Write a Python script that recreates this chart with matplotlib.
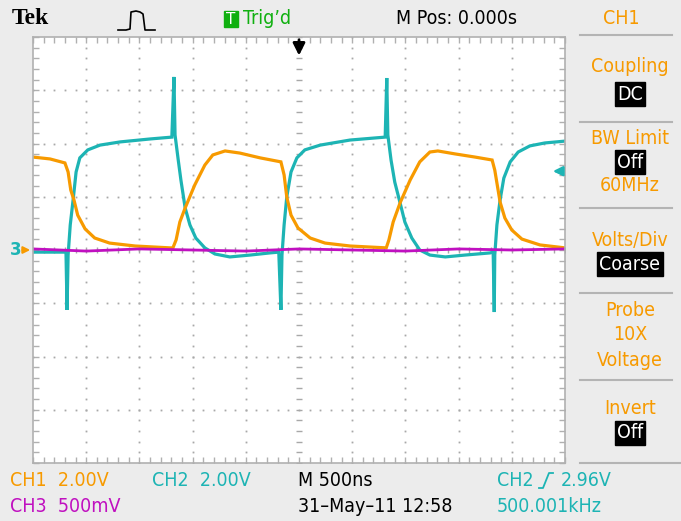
import matplotlib
matplotlib.use("Agg")
import matplotlib.pyplot as plt
import numpy as np
from matplotlib.lines import Line2D
from matplotlib.patches import Rectangle

# scope settings
ns_per_div = 500.0
ch1_v_per_div = 2.0
ch2_v_per_div = 2.0
ch3_v_per_div = 0.5
trig_level = 2.96

# CH1 (orange): time in ns, volts
ch1_t = [-2500, -2340, -2200, -2170, -2145, -2115, -2080, -2010, -1920, -1780,
         -1540, -1210, -1185, -1155, -1120, -1070, -980, -885, -810, -695,
         -555, -365, -170, -140, -115, -75, -10, 105, 245, 480,
         820, 845, 885, 950, 1045, 1135, 1230, 1305, 1465, 1655,
         1815, 1840, 1890, 1935, 2000, 2095, 2265, 2500]
ch1_v = [3.49, 3.42, 3.27, 2.93, 2.25, 1.88, 1.31, 0.79, 0.45, 0.26,
         0.15, 0.08, 0.08, 0.38, 1.05, 1.58, 2.44, 3.19, 3.57, 3.72,
         3.64, 3.46, 3.31, 2.82, 1.99, 1.31, 0.83, 0.45, 0.26, 0.15,
         0.08, 0.38, 1.05, 1.77, 2.63, 3.31, 3.68, 3.72, 3.61, 3.49,
         3.38, 3.00, 1.80, 1.20, 0.75, 0.41, 0.19, 0.08]

# CH2 (cyan)
ch2_t = [-2500, -2190, -2180, -2170, -2150, -2120, -2095, -2060, -1985, -1870,
         -1680, -1400, -1195, -1175, -1165, -1135, -1110, -1070, -1025, -970,
         -885, -790, -650, -460, -275, -190, -170, -160, -140, -115,
         -75, -20, 55, 200, 480, 810, 825, 835, 865, 900,
         950, 995, 1060, 1135, 1230, 1375, 1560, 1795, 1825, 1835,
         1840, 1860, 1890, 1925, 1985, 2060, 2170, 2310, 2500]
ch2_v = [-0.08, -0.08, -2.25, -0.19, 0.94, 1.99, 2.93, 3.46, 3.76, 3.94,
         4.06, 4.17, 4.24, 6.50, 4.32, 3.38, 2.63, 1.58, 0.94, 0.45,
         0.08, -0.15, -0.26, -0.19, -0.11, -0.08, -2.25, -0.19, 0.94, 1.99,
         2.93, 3.46, 3.76, 3.94, 4.13, 4.24, 6.46, 4.32, 3.38, 2.55,
         1.77, 1.05, 0.45, 0.00, -0.19, -0.26, -0.19, -0.11, -0.08, -2.33,
         -0.19, 0.94, 1.88, 2.70, 3.31, 3.68, 3.91, 4.02, 4.09]

# CH3 (magenta), flat near ground
ch3_t = [-2500, -2000, -1500, -1000, -500, 0, 500, 1000, 1500, 2000, 2500]
ch3_v = [0.01, -0.01, 0.01, 0.0, -0.01, 0.01, 0.0, -0.01, 0.01, 0.0, 0.01]

ORANGE = "#f79a00"
CYAN = "#1db4b4"
MAGENTA = "#c010c0"
GREEN = "#10b010"
W, H = 681, 521
FONT = ["DejaVu Sans"]
TXT = dict(family=FONT, fontstretch="condensed", fontsize=14)


def fx(x):
    return x / W


def fy(y):
    return 1 - y / H


def to_div(t, v, vdiv):
    return np.array(t) / ns_per_div + 5, np.array(v) / vdiv


fig = plt.figure(figsize=(W / 100, H / 100), dpi=100, facecolor="#ececec")
ax = fig.add_axes([fx(33), fy(463), (565 - 33) / W, (463 - 37) / H])
ax.set_facecolor("white")
ax.set_xlim(0, 10)
ax.set_ylim(-4, 4)
for s in ax.spines.values():
    s.set_color("#b0b0b0")
    s.set_linewidth(1.2)
ax.set_xticks(np.arange(0, 10.01, 0.2))
ax.set_yticks(np.arange(-4, 4.01, 0.2))
ax.tick_params(direction="in", length=4, width=1, color="#b0b0b0",
               top=True, right=True, labelbottom=False, labelleft=False)

# graticule dots
steps_y = np.arange(-4, 4.01, 0.2)
steps_x = np.arange(0, 10.01, 0.2)
for k in range(1, 10):
    if k != 5:
        ax.plot(np.full_like(steps_y, k), steps_y, ls="none", marker="s",
                ms=1.3, color="#a8a8a8", mec="none")
for j in range(-3, 4):
    if j != 0:
        ax.plot(steps_x, np.full_like(steps_x, j), ls="none", marker="s",
                ms=1.3, color="#a8a8a8", mec="none")
# centre crosshair ticks
ax.plot(np.full_like(steps_y, 5), steps_y, ls="none", marker="_", ms=5,
        mew=1, color="#a8a8a8")
ax.plot(steps_x, np.zeros_like(steps_x), ls="none", marker="|", ms=5,
        mew=1, color="#a8a8a8")

# traces
x2, y2 = to_div(ch2_t, ch2_v, ch2_v_per_div)
x1, y1 = to_div(ch1_t, ch1_v, ch1_v_per_div)
x3, y3 = to_div(ch3_t, ch3_v, ch3_v_per_div)
ax.plot(x2, y2, color=CYAN, lw=2.3, solid_joinstyle="miter")
ax.plot(x1, y1, color=ORANGE, lw=2.3, solid_joinstyle="miter")
ax.plot(x3, y3, color=MAGENTA, lw=2.0)

# trigger position and level markers
ax.annotate("", xy=(5, 3.6), xytext=(5, 4.0),
            arrowprops=dict(arrowstyle="-|>", color="black", lw=2,
                            mutation_scale=18), annotation_clip=False)
ax.annotate("", xy=(9.72, trig_level / ch2_v_per_div),
            xytext=(10.0, trig_level / ch2_v_per_div),
            arrowprops=dict(arrowstyle="-|>", color=CYAN, lw=1.8,
                            mutation_scale=14), annotation_clip=False)
# ground marker
ax.annotate("", xy=(0, 0), xytext=(-0.25, 0),
            arrowprops=dict(arrowstyle="-|>", color=ORANGE, lw=1.5,
                            mutation_scale=10), annotation_clip=False)
fig.text(fx(16), fy(250), "3", color=CYAN, fontsize=12, fontweight="bold",
         family=FONT, ha="center", va="center")

# header
fig.text(fx(12), fy(19), "Tek", family=["Liberation Serif", "DejaVu Serif"],
         fontweight="bold", fontsize=17, ha="left", va="center")
pulse_x = [118, 122, 126, 130, 131, 136, 140, 143, 145, 150, 155]
pulse_y = [30, 30, 30, 29, 12, 11, 12, 14, 30, 30, 30]
fig.add_artist(Line2D([fx(v) for v in pulse_x], [fy(v) for v in pulse_y],
                      color="black", lw=1.2))
fig.add_artist(Rectangle((fx(224), fy(27)), 14 / W, 16 / H, color=GREEN,
                         transform=fig.transFigure))
fig.text(fx(231), fy(19), "T", color="white", fontsize=11, family=FONT,
         ha="center", va="center")
fig.text(fx(243), fy(18), "Trig\u2019d", color=GREEN, ha="left",
         va="center", **TXT)
fig.text(fx(396), fy(18), "M Pos: 0.000s", color="black", ha="left",
         va="center", **TXT)
fig.text(fx(621), fy(18), "CH1", color=ORANGE, ha="center", va="center",
         **TXT)

# side menu
for yy in [35, 122, 208, 293, 380]:
    fig.add_artist(Line2D([fx(580), fx(672)], [fy(yy), fy(yy)],
                          color="#b4b4b4", lw=1.5))
fig.add_artist(Line2D([fx(580), fx(681)], [fy(463), fy(463)],
                      color="#b4b4b4", lw=1.5))

side_plain = [("Coupling", 67), ("BW Limit", 138), ("60MHz", 186),
              ("Volts/Div", 240), ("Probe", 311), ("10X", 335),
              ("Voltage", 360), ("Invert", 408)]
for label, yy in side_plain:
    fig.text(fx(630), fy(yy), label, color=ORANGE, ha="center",
             va="center", **TXT)
side_boxed = [("DC", 94), ("Off", 162), ("Coarse", 264), ("Off", 433)]
for label, yy in side_boxed:
    fig.text(fx(630), fy(yy), label, color="white", ha="center",
             va="center", bbox=dict(boxstyle="square,pad=0.12", fc="black",
                                    ec="black"), **TXT)

# status lines
fig.text(fx(10), fy(480), "CH1  2.00V", color=ORANGE, ha="left",
         va="center", **TXT)
fig.text(fx(152), fy(480), "CH2  2.00V", color=CYAN, ha="left",
         va="center", **TXT)
fig.text(fx(298), fy(480), "M 500ns", color="black", ha="left",
         va="center", **TXT)
fig.text(fx(497), fy(480), "CH2", color=CYAN, ha="left", va="center", **TXT)
edge_x = [539, 543, 549, 553]
edge_y = [488, 488, 473, 473]
fig.add_artist(Line2D([fx(v) for v in edge_x], [fy(v) for v in edge_y],
                      color=CYAN, lw=1.3))
fig.text(fx(561), fy(480), "%.2fV" % trig_level, color=CYAN, ha="left",
         va="center", **TXT)
fig.text(fx(10), fy(507), "CH3  500mV", color=MAGENTA, ha="left",
         va="center", **TXT)
fig.text(fx(298), fy(507), "31\u2013May\u201311 12:58", color="black",
         ha="left", va="center", **TXT)
fig.text(fx(497), fy(507), "500.001kHz", color=CYAN, ha="left",
         va="center", **TXT)

fig.savefig("out.png", dpi=100, facecolor=fig.get_facecolor())
